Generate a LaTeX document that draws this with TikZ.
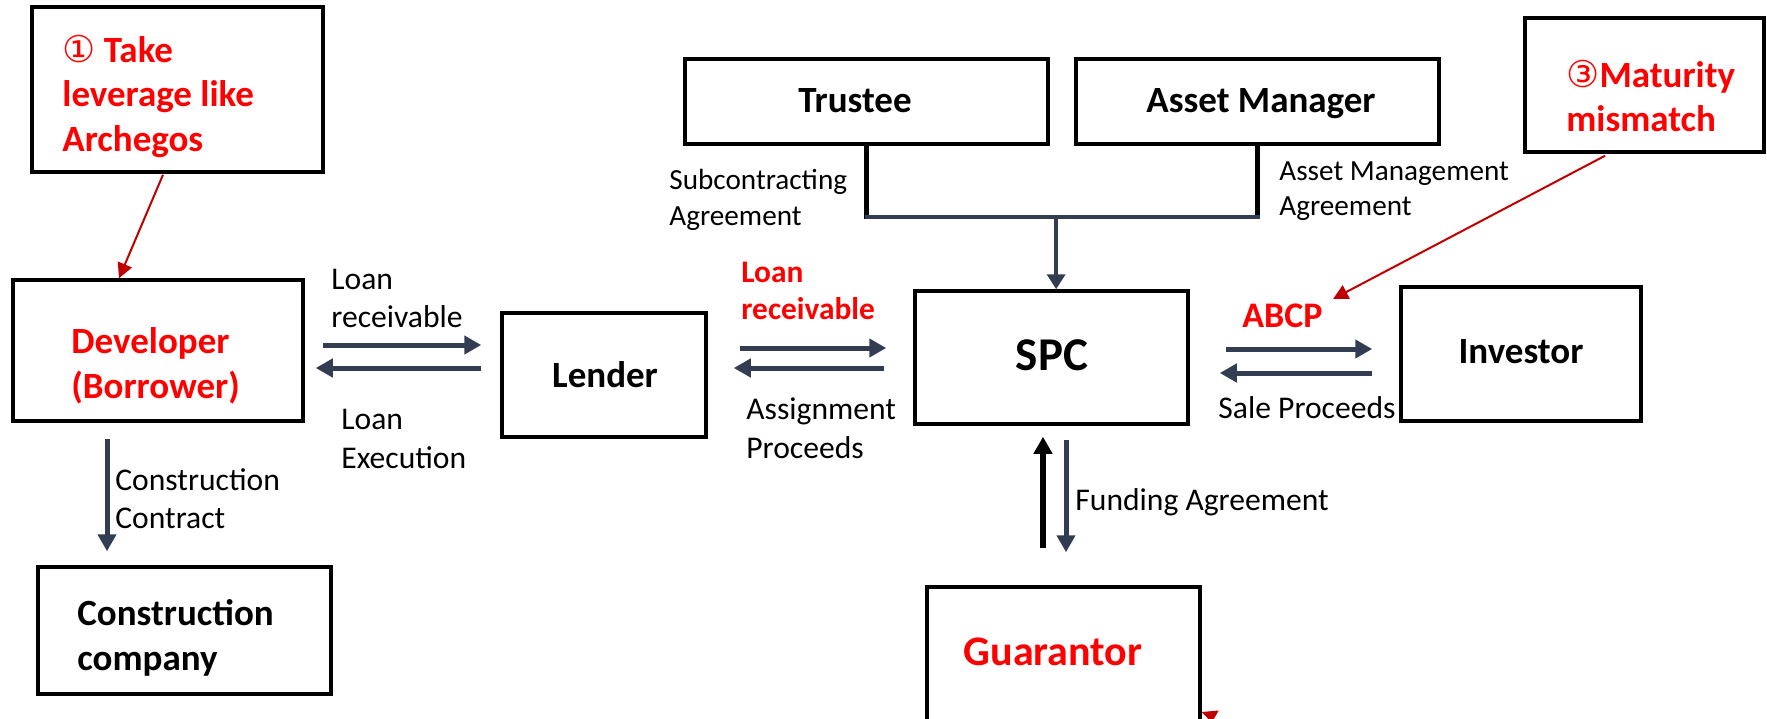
\documentclass[tikz,border=0pt]{standalone}
\usepackage{fontspec}
\setmainfont{Carlito}
\newfontfamily\symfont{DejaVu Sans}
\usetikzlibrary{arrows.meta,calc}
\definecolor{slate}{RGB}{51,61,82}
\definecolor{alert}{RGB}{255,0,0}
\definecolor{alertline}{RGB}{192,0,0}

\begin{document}
\begin{tikzpicture}[x=0.5pt,y=-0.5pt,
  box/.style={draw=black, line width=1.75pt, rectangle, inner sep=0pt},
  boxlabel/.style={font=\bfseries\fontsize{18.5}{22.25}\selectfont, inner sep=0pt, align=left},
  flowlabel/.style={font=\fontsize{15.8}{19.3}\selectfont, inner sep=0pt, align=left},
  smalllabel/.style={font=\fontsize{14.6}{17.8}\selectfont, inner sep=0pt, align=left},
  redlabel/.style={font=\bfseries\fontsize{15.7}{18.7}\selectfont, text=alert, inner sep=0pt, align=left},
  flow/.style={draw=slate, line width=2.5pt, -{Triangle[length=8.5pt,width=9pt]}},
  thinflow/.style={draw=slate, line width=2pt, -{Triangle[length=7.5pt,width=9pt]}},
  blackflow/.style={draw=black, line width=3pt, -{Triangle[length=8.5pt,width=9pt]}},
  redflow/.style={draw=alertline, line width=1pt, -{Triangle[length=7.5pt,width=7.5pt]}}
]
\useasboundingbox (0,0) rectangle (1767,718);
\clip (0,0) rectangle (1767,718);

% ---- boxes ----
\node[box, minimum width=145.5pt, minimum height=82.5pt] (lev) at (177.5,89.5) {};
\node[box, minimum width=145pt, minimum height=70.5pt] (dev) at (158,350.5) {};
\node[box, minimum width=146.5pt, minimum height=63.5pt] (cc) at (184.5,630.5) {};
\node[box, minimum width=102pt, minimum height=62pt] (lender) at (604,375) {};
\node[box, minimum width=136.5pt, minimum height=66.5pt] (spc) at (1051.5,357.5) {};
\node[box, minimum width=181.5pt, minimum height=42.5pt] (trustee) at (866.5,101.5) {};
\node[box, minimum width=181.5pt, minimum height=42.5pt] (am) at (1257.5,101.5) {};
\node[box, minimum width=119.5pt, minimum height=67pt] (mat) at (1644.5,85) {};
\node[box, minimum width=120pt, minimum height=67pt] (inv) at (1521,354) {};
\node[box, minimum width=136.5pt, minimum height=86.5pt] (guar) at (1063.5,673.5) {};

% ---- box texts ----
\node[boxlabel, text=alert, anchor=west] (levtxt) at (62,96)
  {{\symfont\mdseries ①} Take\\leverage like\\Archegos};
\node[boxlabel, text=alert, anchor=west] (devtxt) at (71,366) {Developer\\(Borrower)};
\node[boxlabel, anchor=west] (cctxt) at (77,638) {Construction\\company};
\node[boxlabel, anchor=base] (lendertxt) at (605,387) {Lender};
\node[boxlabel, anchor=base, font=\bfseries\fontsize{23.5}{28}\selectfont] (spctxt) at (1052,370) {SPC};
\node[boxlabel, anchor=base] (trusteetxt) at (855,112) {Trustee};
\node[boxlabel, anchor=base] (amtxt) at (1261,112) {Asset Manager};
\node[boxlabel, text=alert, anchor=west] (mattxt) at (1566,96) {{\symfont\mdseries ③}Maturity\\mismatch};
\node[boxlabel, anchor=base] (invtxt) at (1521,363) {Investor};
\node[boxlabel, text=alert, anchor=base, font=\bfseries\fontsize{21}{25}\selectfont] (guartxt) at (1053,665) {Guarantor};

% ---- connector labels ----
\node[flowlabel, anchor=west] (lr1) at (331,298.5) {Loan\\receivable};
\node[flowlabel, anchor=west] (le) at (341,439) {Loan\\Execution};
\node[flowlabel, anchor=west] (ccon) at (115,498.5) {Construction\\Contract};
\node[redlabel, anchor=west] (lr2) at (741,291) {Loan\\receivable};
\node[flowlabel, anchor=west] (ap) at (746,428) {Assignment\\Proceeds};
\node[redlabel, anchor=base west, font=\bfseries\fontsize{18}{22}\selectfont] (abcp) at (1242,327) {ABCP};
\node[flowlabel, anchor=base west] (sp) at (1218,418) {Sale Proceeds};
\node[flowlabel, anchor=base west] (fa) at (1075,510) {Funding Agreement};
\node[smalllabel, anchor=west] (sa) at (669,200) {Subcontracting\\Agreement};
\node[smalllabel, anchor=west] (ama) at (1279,191) {Asset Management\\Agreement};

% ---- Trustee / Asset Manager join into SPC ----
\coordinate (tj) at ($(trustee.south)+(0,71)$);
\coordinate (aj) at ($(am.south)+(0,71)$);
\draw[black, line width=2.25pt] (trustee.south) -- ($(tj)+(0,2)$);
\draw[black, line width=2.25pt] (am.south) -- ($(aj)+(0,2)$);
\draw[slate, line width=2.25pt] ($(tj)+(-2,0)$) -- ($(aj)+(2,0)$);
\coordinate (join) at ($(tj)!0.485!(aj)$);
\draw[thinflow] (join) -- (join |- spc.north);

% ---- Developer <-> Lender ----
\draw[flow] ([shift={(18,-5.5)}]dev.east) -- ([shift={(-19,-30)}]lender.west);
\draw[flow] ([shift={(-19,-7)}]lender.west) -- ([shift={(11,17.5)}]dev.east);

% ---- Lender <-> SPC ----
\draw[flow] ([shift={(32,-27)}]lender.east) -- ([shift={(-27,-9.5)}]spc.west);
\draw[flow] ([shift={(-29,10.5)}]spc.west) -- ([shift={(26,-7)}]lender.east);

% ---- SPC <-> Investor ----
\draw[flow] ([shift={(36,-8.5)}]spc.east) -- ([shift={(-27,-5)}]inv.west);
\draw[flow] ([shift={(-27,19)}]inv.west) -- ([shift={(30,15.5)}]spc.east);

% ---- Developer -> Construction company ----
\draw[flow] ([shift={(-51,16)}]dev.south) -- ([shift={(-77.5,-14)}]cc.north);

% ---- SPC <-> Guarantor ----
\draw[blackflow] ([shift={(-20.5,-37)}]guar.north) -- ([shift={(-8.5,11)}]spc.south);
\draw[flow] ([shift={(14.5,14)}]spc.south) -- ([shift={(2.5,-33)}]guar.north);

% ---- risk callouts ----
\draw[redflow] ([shift={(-14.5,1)}]lev.south) -- ([shift={(-39,0)}]dev.north);
\draw[redflow] ([shift={(-39.5,2)}]mat.south) -- ([shift={(10,-4)}]abcp.north east);
\fill[alertline] ([shift={(0,38.5)}]guar.east) -- ++(17,-1.5) -- ++(-7,12) -- cycle;
\end{tikzpicture}
\end{document}
